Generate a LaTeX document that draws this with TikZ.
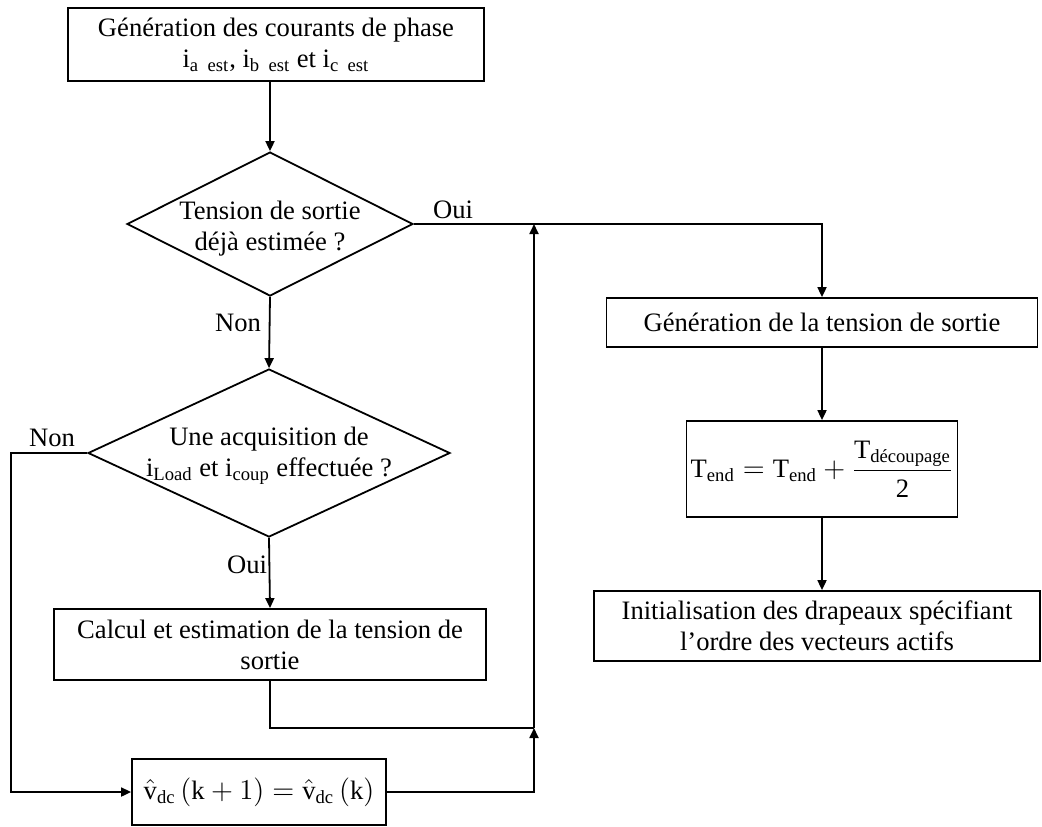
\documentclass[tikz,border=0pt]{standalone}
\usepackage{amsmath}
\usepackage[no-math]{fontspec}
\setmainfont{Liberation Serif}
\usetikzlibrary{shapes.geometric,arrows.meta,positioning,calc}

\tikzset{
  box/.style={draw,line width=0.9pt,inner sep=2pt,align=center,font=\fontsize{13.3}{15.5}\selectfont},
  decision/.style={draw,diamond,line width=0.9pt,inner sep=0pt},
  txt/.style={align=center,font=\fontsize{13.3}{15.5}\selectfont},
  arr/.style={-{Triangle[length=5pt,width=4.5pt]},line width=0.9pt},
  wire/.style={line width=0.9pt}
}

\begin{document}
\begin{tikzpicture}[x=0.5pt,y=-0.5pt]
  \useasboundingbox (0,0) rectangle (1042,826);
  % left column
  \node[box,minimum width=208pt,minimum height=36.5pt] (gen) at (276,44.5)
    {G\'en\'eration des courants de phase\\i\textsubscript{a\ \ est}, i\textsubscript{b\ \ est} et i\textsubscript{c\ \ est}};
  \node[decision,minimum width=143pt,minimum height=72pt] (d1) at (270,224) {};
  \node[txt] (d1t) at (270,229) {Tension de sortie\\d\'ej\`a estim\'ee ?};
  \node[decision,minimum width=181pt,minimum height=84pt] (d2) at (269,453) {};
  \node[txt] (d2t) at (269,456) {Une acquisition de\\i\textsubscript{Load} et i\textsubscript{coup} effectu\'ee ?};
  \node[box,minimum width=216pt,minimum height=35.5pt] (calc) at (270,644.5)
    {Calcul et estimation de la tension de\\sortie};
  \node[box,minimum width=127pt,minimum height=33pt] (vdc) at (259,792)
    {$\hat{\text{v}}_{\text{dc}}\left(\text{k}+1\right)=\hat{\text{v}}_{\text{dc}}\left(\text{k}\right)$};
  % right column
  \node[box,minimum width=215.5pt,minimum height=24.5pt] (gtens) at (822,322.5)
    {G\'en\'eration de la tension de sortie};
  \node[box,minimum width=135.5pt,minimum height=48pt] (tend) at (822,469)
    {$\text{T}_{\text{end}}=\text{T}_{\text{end}}+\dfrac{\text{T}_{\text{d\'ecoupage}}}{\text{2}}$};
  \node[box,minimum width=223pt,minimum height=35pt] (init) at (817,626)
    {Initialisation des drapeaux sp\'ecifiant\\l'ordre des vecteurs actifs};
  \coordinate (j) at (534,728);
  % labels
  \node[txt] (oui1) at (453,210) {Oui};
  \node[txt] (non1) at (238,323) {Non};
  \node[txt] (non2) at (52,438) {Non};
  \node[txt] (oui2) at (247,565) {Oui};
  % connectors
  \draw[arr] (d1.north |- gen.south) -- (d1.north);
  \draw[arr] (d1.south) -- (d2.north);
  \draw[arr] (d2.south) -- (calc.north);
  \draw[arr] (d1.east) -| (gtens.north);
  \draw[arr] (gtens.south) -- (tend.north);
  \draw[arr] (tend.south) -- (tend.south |- init.north);
  \draw[arr] (d2.west) -- ++(-76,0) |- (vdc.west);
  \draw[wire] (calc.south) |- (j);
  \draw[arr] (vdc.east) -| (j);
  \draw[arr] (j) -- (j |- d1.east);
\end{tikzpicture}
\end{document}
